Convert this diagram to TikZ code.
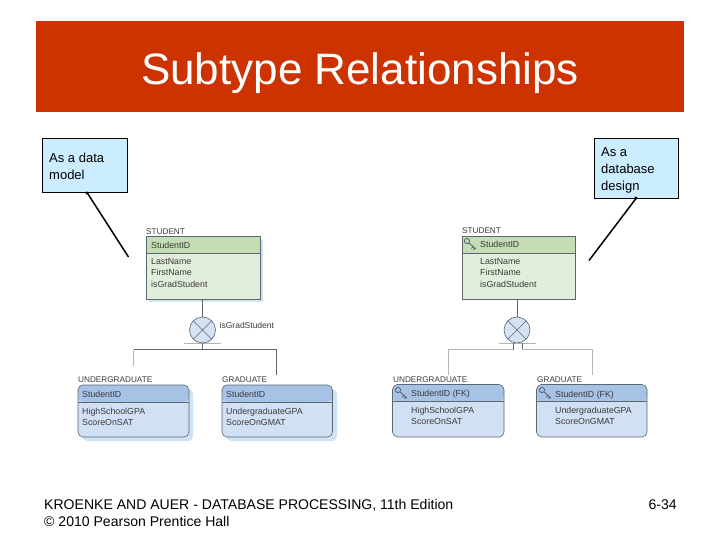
\documentclass[tikz,border=0pt]{standalone}
\usepackage{fontspec}
\setmainfont{Liberation Sans}
\definecolor{banner}{HTML}{CC3300}
\definecolor{callfill}{HTML}{CCECFF}
\definecolor{grnbody}{HTML}{E2EEDC}
\definecolor{grnhead}{HTML}{C4DDB4}
\definecolor{blubody}{HTML}{D2E0F5}
\definecolor{bluhead}{HTML}{A6C3E6}
\definecolor{shad}{HTML}{CFE3F3}
\definecolor{ink}{HTML}{3A3A3A}
\definecolor{edge}{HTML}{5A6670}
\definecolor{inkline}{HTML}{666666}
\definecolor{soft}{HTML}{B5B5B5}
\definecolor{juncfill}{HTML}{D5E2F2}
\tikzset{
  callout/.style={draw=black,line width=0.8pt,fill=callfill,anchor=north west,inner sep=0pt,outer sep=0pt},
  calltext/.style={anchor=north west,inner sep=0pt,align=left,font=\fontsize{13}{17}\selectfont,text=black},
  pointer/.style={draw=black,line width=1.5pt},
  entgreen/.style={draw=edge,line width=0.7pt,fill=grnbody,anchor=north west,inner sep=0pt,outer sep=0pt,
    path picture={\fill[grnhead] (path picture bounding box.north west) rectangle ([yshift=-16.5pt]path picture bounding box.north east);
    \draw[edge,line width=0.6pt] ([yshift=-16.5pt]path picture bounding box.north west) -- ([yshift=-16.5pt]path picture bounding box.north east);}},
  entblue/.style={draw=edge,line width=0.6pt,rounded corners=5pt,fill=blubody,anchor=north west,inner sep=0pt,outer sep=0pt,
    path picture={\fill[bluhead] (path picture bounding box.north west) rectangle ([yshift=-17pt]path picture bounding box.north east);
    \draw[edge,line width=0.6pt] ([yshift=-17pt]path picture bounding box.north west) -- ([yshift=-17pt]path picture bounding box.north east);}},
  shadowbox/.style={fill=shad,draw=none,anchor=north west,inner sep=0pt,outer sep=0pt},
  enttitle/.style={anchor=south west,inner sep=0pt,font=\fontsize{8.2}{9}\selectfont,text=ink},
  attr/.style={anchor=north west,inner sep=0pt,align=left,font=\fontsize{8.8}{11.4}\selectfont,text=ink},
  junction/.style={circle,draw=edge,line width=0.6pt,fill=juncfill,minimum size=26pt,inner sep=0pt,outer sep=0pt},
  link/.style={draw=inkline,line width=0.7pt},
  softlink/.style={draw=soft,line width=0.7pt},
  keyicon/.style={draw=edge,line width=0.9pt}
}
\newcommand{\keyglyph}[2]{%
  \draw[keyicon] (#1+2,#2+2) circle (2.6pt);
  \draw[keyicon] (#1+4,#2+4) -- (#1+11,#2+10) (#1+8,#2+7.5) -- (#1+6.5,#2+9.5) (#1+10,#2+9) -- (#1+8.5,#2+11);
}
\begin{document}
\begin{tikzpicture}[x=1pt,y=-1pt]
\useasboundingbox (0,0) rectangle (720,540);
\fill[white] (0,0) rectangle (720,540);
% banner
\node[fill=banner,minimum width=648pt,minimum height=91pt,inner sep=0pt,outer sep=0pt,anchor=north west] (banner) at (36,21) {};
\node[inner sep=0pt,text=white,font=\fontsize{44}{46}\selectfont] (title) at (360,73) {Subtype Relationships};
% callouts
\node[callout,minimum width=85pt,minimum height=54pt] (cleft) at (42,138) {};
\node[calltext] (cleftt) at (49,152.5) {As a data\\model};
\node[callout,minimum width=84pt,minimum height=60pt] (cright) at (594,138) {};
\node[calltext] (crightt) at (601,147.5) {As a\\database\\design};
\coordinate (pl) at (128.5,257);
\coordinate (pr) at (589,260.5);
\draw[pointer] (87,192.5) -- (pl);
\draw[pointer] (636,198.5) -- (pr);
\fill (87,193) circle (1.6pt);
\fill (636,198) circle (1.6pt);
% ---------- left model
\node[shadowbox,minimum width=114pt,minimum height=62pt] at (148.5,239.5) {};
\node[entgreen,minimum width=114pt,minimum height=62.5pt] (s1) at (146,236.5) {};
\node[enttitle] (s1t) at (146,234.5) {STUDENT};
\node[attr] (s1k) at (151,241.5) {StudentID};
\node[attr] (s1a) at (151,258) {LastName\\FirstName\\isGradStudent};
\node[junction] (j1) at (202.5,330) {};
\draw[edge,line width=0.6pt] (j1.north west) -- (j1.south east) (j1.north east) -- (j1.south west);
\node[anchor=west,inner sep=0pt,font=\fontsize{8.5}{9}\selectfont,text=ink] (j1t) at (219.5,325) {isGradStudent};
\coordinate (b1l) at (184,343.5);
\coordinate (b1r) at (221,343.5);
\draw[softlink] (b1l) -- (b1r);
\coordinate (h1) at (202.5,349.5);
\coordinate (h1l) at (133.5,349.5);
\coordinate (h1r) at (276.5,349.5);
\coordinate (e1l) at (133.5,366);
\coordinate (e1r) at (276.5,375);
\draw[link] (s1.south -| j1) -- (j1);
\draw[link] (j1) -- (h1);
\draw[link] (h1l) -- (h1r);
\draw[link] (h1r) -- (e1r);
\draw[softlink] (h1l) -- (e1l);
\node[shadowbox,rounded corners=5pt,minimum width=111pt,minimum height=52pt] at (82,389) {};
\node[entblue,minimum width=111pt,minimum height=52pt] (u1) at (78,385) {};
\node[enttitle] (u1t) at (78,382.5) {UNDERGRADUATE};
\node[attr] (u1k) at (82,390.5) {StudentID};
\node[attr] (u1a) at (82,407.5) {HighSchoolGPA\\ScoreOnSAT};
\node[shadowbox,rounded corners=5pt,minimum width=111pt,minimum height=52pt] at (226,389) {};
\node[entblue,minimum width=110.5pt,minimum height=52pt] (g1) at (222,385) {};
\node[enttitle] (g1t) at (222,383) {GRADUATE};
\node[attr] (g1k) at (226,391) {StudentID};
\node[attr] (g1a) at (226,407.5) {UndergraduateGPA\\ScoreOnGMAT};
% ---------- right design
\node[entgreen,minimum width=113pt,minimum height=62.5pt] (s2) at (462,236.5) {};
\node[enttitle] (s2t) at (462,234) {STUDENT};
\keyglyph{465}{239}
\node[attr] (s2k) at (480,241) {StudentID};
\node[attr] (s2a) at (480,258) {LastName\\FirstName\\isGradStudent};
\node[junction] (j2) at (517,330) {};
\draw[edge,line width=0.6pt] (j2.north west) -- (j2.south east) (j2.north east) -- (j2.south west);
\coordinate (b2l) at (499,343);
\coordinate (b2r) at (536,343);
\draw[softlink] (b2l) -- (b2r);
\coordinate (h2a) at (513,349.5);
\coordinate (h2b) at (522,349.5);
\coordinate (h2l) at (448.5,349.5);
\coordinate (h2r) at (592.5,349.5);
\coordinate (e2l) at (448.5,375);
\coordinate (e2r) at (592.5,375);
\draw[link] (s2.south -| j2) -- (j2);
\draw[link] (h2a |- j2.south) -- (h2a);
\draw[link] (h2b |- j2.south) -- (h2b);
\draw[softlink] (h2a) -- (h2l) -- (e2l);
\draw[softlink] (h2b) -- (h2r) -- (e2r);
\node[entblue,minimum width=111.5pt,minimum height=52.5pt] (u2) at (392.5,384.5) {};
\node[enttitle] (u2t) at (393,382.5) {UNDERGRADUATE};
\keyglyph{396}{388}
\node[attr] (u2k) at (411,390) {StudentID (FK)};
\node[attr] (u2a) at (411,407) {HighSchoolGPA\\ScoreOnSAT};
\node[entblue,minimum width=110.5pt,minimum height=52.5pt] (g2) at (536.5,384.5) {};
\node[enttitle] (g2t) at (537,383) {GRADUATE};
\keyglyph{540}{388}
\node[attr] (g2k) at (555,390.5) {StudentID (FK)};
\node[attr] (g2a) at (555,407) {UndergraduateGPA\\ScoreOnGMAT};
% footer
\node[anchor=north west,inner sep=0pt,align=left,font=\fontsize{14.05}{17}\selectfont] (foot) at (44,499) {KROENKE AND AUER - DATABASE PROCESSING, 11th Edition\\© 2010 Pearson Prentice Hall};
\node[anchor=north east,inner sep=0pt,font=\fontsize{14.05}{17}\selectfont] (pg) at (677,499) {6-34};
\end{tikzpicture}
\end{document}
